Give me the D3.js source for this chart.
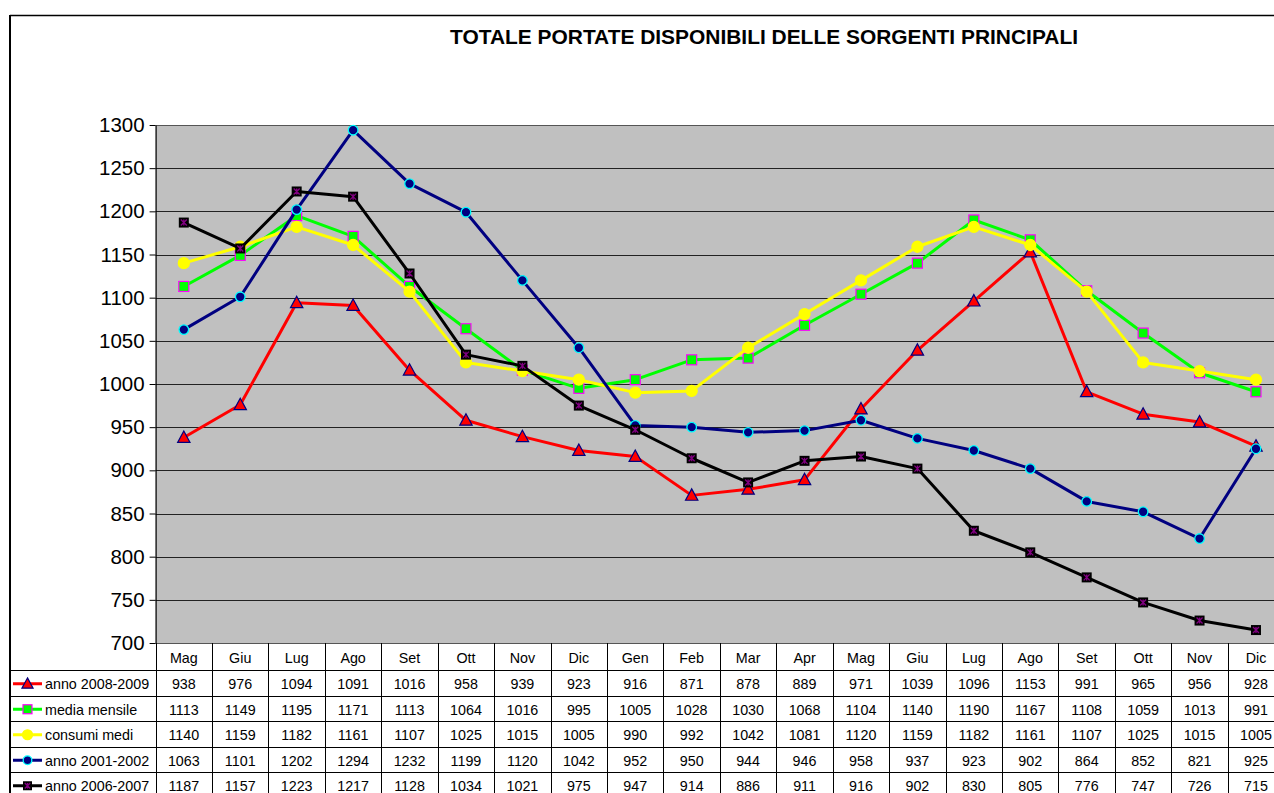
<!DOCTYPE html>
<html>
<head>
<meta charset="utf-8">
<script src="https://cdn.jsdelivr.net/npm/d3@7"></script>
<style>
  html, body { margin: 0; padding: 0; background: #fff; }
  svg { display: block; font-family: "Liberation Sans", Arial, sans-serif; }
</style>
</head>
<body>
<svg id="chart" width="1274" height="793"></svg>
<script>
const title = "TOTALE PORTATE DISPONIBILI DELLE SORGENTI PRINCIPALI";
const months = ["Mag","Giu","Lug","Ago","Set","Ott","Nov","Dic","Gen","Feb","Mar","Apr","Mag","Giu","Lug","Ago","Set","Ott","Nov","Dic"];
const yTicks = [700,750,800,850,900,950,1000,1050,1100,1150,1200,1250,1300];

const seriesNames = ["anno 2008-2009","media mensile","consumi medi","anno 2001-2002","anno 2006-2007"];
const anno0809 = [938,976,1094,1091,1016,958,939,923,916,871,878,889,971,1039,1096,1153,991,965,956,928];
const mediaMensile = [1113,1149,1195,1171,1113,1064,1016,995,1005,1028,1030,1068,1104,1140,1190,1167,1108,1059,1013,991];
const consumiMedi = [1140,1159,1182,1161,1107,1025,1015,1005,990,992,1042,1081,1120,1159,1182,1161,1107,1025,1015,1005];
const anno0102 = [1063,1101,1202,1294,1232,1199,1120,1042,952,950,944,946,958,937,923,902,864,852,821,925];
const anno0607 = [1187,1157,1223,1217,1128,1034,1021,975,947,914,886,911,916,902,830,805,776,747,726,715];

const seriesValues = [anno0809, mediaMensile, consumiMedi, anno0102, anno0607];
const styles = [
  {color:"#FF0000", marker:"triangle", fill:"#FF0000", stroke:"#000080"},
  {color:"#00FF00", marker:"square", fill:"#00FF00", stroke:"#FF00FF"},
  {color:"#FFFF00", marker:"circle", fill:"#FFFF00", stroke:"#FFFF00"},
  {color:"#000080", marker:"circle", fill:"#000080", stroke:"#00FFFF"},
  {color:"#000000", marker:"star", fill:"#000000", stroke:"#800080"}
];

const svg = d3.select("#chart");
const plotL = 155.6, plotT = 125, plotB = 643;
const colW = 56.43;
const plotR = plotL + colW * months.length;

const x = d3.scaleBand().domain(d3.range(months.length)).range([plotL, plotR]).padding(0);
const y = d3.scaleLinear().domain([700,1300]).range([plotB, plotT]);

// outer chart border
svg.append("line").attr("x1",10).attr("x2",1274).attr("y1",15.5).attr("y2",15.5).attr("stroke","#000").attr("stroke-width",1.5);
svg.append("line").attr("x1",10).attr("x2",10).attr("y1",15).attr("y2",793).attr("stroke","#000").attr("stroke-width",2);

// title
svg.append("text").attr("x",764).attr("y",44).attr("text-anchor","middle")
  .attr("font-size","21px").attr("font-weight","bold").attr("fill","#000")
  .attr("textLength",628).attr("lengthAdjust","spacingAndGlyphs").text(title);

// plot background
svg.append("rect").attr("x",plotL).attr("y",plotT).attr("width",plotR-plotL).attr("height",plotB-plotT).attr("fill","#C0C0C0");

// gridlines
svg.append("g").selectAll("line").data(yTicks).join("line")
  .attr("x1",plotL).attr("x2",plotR)
  .attr("y1",d=>Math.round(y(d))+0.5).attr("y2",d=>Math.round(y(d))+0.5)
  .attr("stroke", d=> (d===1300||d===700) ? "#555" : "#222").attr("stroke-width",1.2);

// y axis
const yAxis = d3.axisLeft(y).tickValues(yTicks).tickFormat(d3.format("d")).tickSize(6).tickSizeOuter(0).tickPadding(5);
const ga = svg.append("g").attr("transform",`translate(${plotL},0)`).call(yAxis);
ga.select(".domain").attr("stroke","#000").attr("stroke-width",1.2);
ga.selectAll(".tick line").attr("stroke","#000");
ga.selectAll(".tick text").attr("font-size","20.5px").attr("fill","#000").attr("font-family","Liberation Sans, Arial, sans-serif");

// markers
function drawMarker(g, type, cx, cy, st, scale) {
  scale = scale || 1;
  if (type === "triangle") {
    const s = 6.5*scale;
    g.append("path").attr("d",`M${cx},${cy-s} L${cx+s*0.95},${cy+s*0.75} L${cx-s*0.95},${cy+s*0.75} Z`)
      .attr("fill",st.fill).attr("stroke",st.stroke).attr("stroke-width",1.2);
  } else if (type === "square") {
    const s = 5*scale;
    g.append("rect").attr("x",cx-s).attr("y",cy-s).attr("width",2*s).attr("height",2*s)
      .attr("fill",st.fill).attr("stroke",st.stroke).attr("stroke-width",1.2);
  } else if (type === "circle") {
    const r = (st.color==="#FFFF00" ? 5.5 : 4.8)*scale;
    g.append("circle").attr("cx",cx).attr("cy",cy).attr("r",r)
      .attr("fill",st.fill).attr("stroke",st.stroke).attr("stroke-width",1.3);
  } else if (type === "star") {
    const s = 5*scale;
    g.append("rect").attr("x",cx-s).attr("y",cy-s).attr("width",2*s).attr("height",2*s).attr("fill","#000");
    const k = 3*scale;
    g.append("path").attr("d",`M${cx-k},${cy-k}L${cx+k},${cy+k}M${cx+k},${cy-k}L${cx-k},${cy+k}M${cx},${cy-k}L${cx},${cy+k}`)
      .attr("stroke",st.stroke).attr("stroke-width",1.3).attr("fill","none");
  }
}

const line = d3.line().x((d,i)=>x(i)+x.bandwidth()/2).y(d=>y(d));
seriesValues.forEach((vals, si) => {
  const st = styles[si];
  const g = svg.append("g");
  g.append("path").datum(vals).attr("d",line).attr("fill","none")
    .attr("stroke",st.color).attr("stroke-width",3).attr("stroke-linejoin","round");
  vals.forEach((v,i)=> drawMarker(g, st.marker, x(i)+x.bandwidth()/2, y(v), st));
});

// data table
const headerTop = plotB, headerBot = 670;
const rowH = 25.5;
const tableBottom = 800;
const tg = svg.append("g");
const vx = d3.range(months.length+1).map(i => plotL + i*colW);
tg.selectAll("line.v").data(vx).join("line").attr("class","v")
  .attr("x1",d=>Math.round(d)+0.5).attr("x2",d=>Math.round(d)+0.5)
  .attr("y1",headerTop).attr("y2",tableBottom).attr("stroke","#000").attr("stroke-width",1);
const hy = d3.range(seriesNames.length).map(i => headerBot + i*rowH);
tg.selectAll("line.h").data(hy).join("line").attr("class","h")
  .attr("x1",10).attr("x2",1274)
  .attr("y1",d=>Math.round(d)+0.5).attr("y2",d=>Math.round(d)+0.5)
  .attr("stroke","#000").attr("stroke-width",1);
tg.selectAll("text.m").data(months).join("text").attr("class","m")
  .attr("x",(d,i)=>x(i)+x.bandwidth()/2).attr("y",(headerTop+headerBot)/2+6)
  .attr("text-anchor","middle").attr("font-size","14.3px").attr("fill","#000").text(d=>d);
seriesNames.forEach((name, si) => {
  const cy = headerBot + si*rowH + rowH/2 + 1;
  const st = styles[si];
  tg.append("line").attr("x1",13).attr("x2",42).attr("y1",cy).attr("y2",cy).attr("stroke",st.color).attr("stroke-width",3);
  drawMarker(tg, st.marker, 27.5, cy, st, 0.9);
  tg.append("text").attr("x",45).attr("y",cy+5.5).attr("font-size","14.3px").attr("fill","#000").text(name);
  tg.selectAll(null).data(seriesValues[si]).join("text")
    .attr("x",(d,i)=>x(i)+x.bandwidth()/2).attr("y",cy+5.5)
    .attr("text-anchor","middle").attr("font-size","14.3px").attr("fill","#000").text(d=>d);
});
</script>
</body>
</html>
